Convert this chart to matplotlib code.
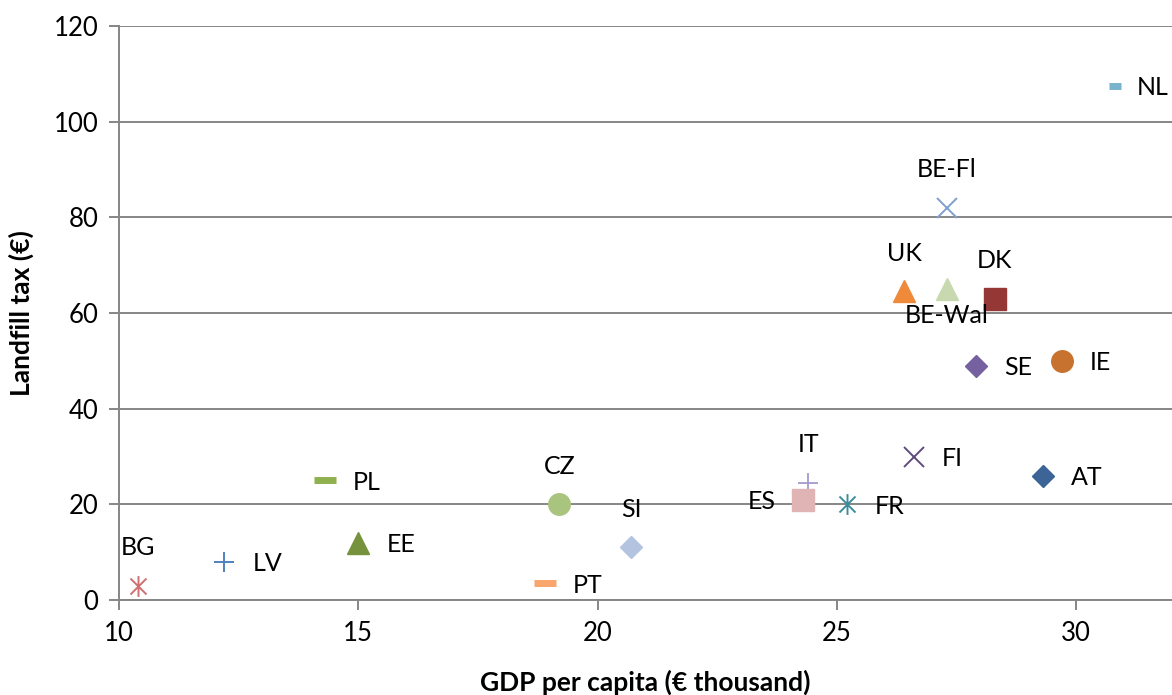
import matplotlib
matplotlib.use("Agg")
import matplotlib.pyplot as plt
from matplotlib.path import Path

plt.rcParams['font.family'] = ['Lato', 'DejaVu Sans']

# GDP per capita (thousand EUR) vs landfill tax (EUR)
countries = ['NL', 'BE-Fl', 'UK', 'BE-Wal', 'DK', 'SE', 'IE', 'IT', 'ES', 'FR',
             'FI', 'AT', 'PL', 'CZ', 'SI', 'EE', 'BG', 'LV', 'PT']
gdp = [30.8, 27.3, 26.4, 27.3, 28.3, 27.9, 29.7, 24.4, 24.3, 25.2,
       26.6, 29.3, 14.3, 19.2, 20.7, 15.0, 10.4, 12.2, 18.9]
tax = [107.5, 82, 64.5, 65, 63, 49, 50, 24.5, 21, 20,
       30, 26, 25, 20, 11, 12, 3, 8, 3.5]

# Excel style star: an x with a vertical bar
star = Path([(-1, -1), (1, 1), (-1, 1), (1, -1), (0, -1.3), (0, 1.3)],
            [Path.MOVETO, Path.LINETO, Path.MOVETO, Path.LINETO, Path.MOVETO, Path.LINETO])

# marker, colour, size, edge width
styles = {
    'NL': ('_', '#77b3cc', 9, 5),
    'BE-Fl': ('x', '#7f9fcf', 15, 1.4),
    'UK': ('^', '#ee8a3a', 15.5, 1),
    'BE-Wal': ('^', '#c8d9b0', 15.5, 1),
    'DK': ('s', '#953735', 15.5, 1),
    'SE': ('D', '#7560a0', 11.5, 1),
    'IE': ('o', '#c8722f', 15.5, 1),
    'IT': ('+', '#a898cc', 15, 1.3),
    'ES': ('s', '#e0b4b4', 15.5, 1),
    'FR': (star, '#3c8d9b', 15, 1.4),
    'FI': ('x', '#604a7b', 15, 1.4),
    'AT': ('D', '#3c6496', 11.5, 1),
    'PL': ('_', '#8fb04e', 15.5, 5),
    'CZ': ('o', '#a9c47f', 15.5, 1),
    'SI': ('D', '#b4c4e0', 11, 1),
    'EE': ('^', '#76923c', 15.5, 1),
    'BG': (star, '#d07070', 15, 1.4),
    'LV': ('+', '#4f81bd', 15, 1.4),
    'PT': ('_', '#f9a56e', 15.5, 5),
}
positions = {
    'NL': 'right', 'BE-Fl': 'above', 'UK': 'above', 'BE-Wal': 'below', 'DK': 'above',
    'SE': 'right', 'IE': 'right', 'IT': 'above', 'ES': 'left', 'FR': 'right',
    'FI': 'right', 'AT': 'right', 'PL': 'right', 'CZ': 'above', 'SI': 'above',
    'EE': 'right', 'BG': 'above', 'LV': 'right', 'PT': 'right',
}

fig = plt.figure(figsize=(11.72, 6.95), dpi=100)
ax = fig.add_axes([119 / 1172, 95 / 695, 1 - 119 / 1172, (600 - 26) / 695])

for c, x, y in zip(countries, gdp, tax):
    m, col, ms, mew = styles[c]
    fc = 'none' if m in ('x', '+', '_') or m is star else col
    ax.plot(x, y, linestyle='none', marker=m, markersize=ms, markeredgewidth=mew,
            color=col, markerfacecolor=fc, markeredgecolor=col, zorder=3)
    side = positions[c]
    if side == 'right':
        # NL sits at the right edge, pull it in a little so it isn't cut
        dx = 22 if c == 'NL' else 28
        off, ha, va = (dx, -2), 'left', 'center'
    elif side == 'left':
        off, ha, va = (-28, -2), 'right', 'center'
    elif side == 'above':
        off, ha, va = (0, 38), 'center', 'center'
    else:
        off, ha, va = (0, -26), 'center', 'center'
    ax.annotate(c, (x, y), xytext=off, textcoords='offset pixels',
                ha=ha, va=va, fontsize=18, color='black', zorder=4)

ax.set_xlim(10, 32)
ax.set_ylim(0, 120)
ax.set_xticks([10, 15, 20, 25, 30])
ax.set_yticks(range(0, 121, 20))
ax.yaxis.grid(True, color='#868686', linewidth=1.4)
ax.set_axisbelow(True)
for s in ['top', 'right']:
    ax.spines[s].set_visible(False)
for s in ['left', 'bottom']:
    ax.spines[s].set_color('#868686')
    ax.spines[s].set_linewidth(1.4)
ax.tick_params(axis='both', direction='out', length=7, width=1.4, color='#868686',
               labelsize=18.5, pad=8)

ax.set_xlabel('GDP per capita (€ thousand)', fontsize=19, fontweight='bold', labelpad=17)
ax.set_ylabel('Landfill tax (€)', fontsize=19, fontweight='bold', labelpad=14)

fig.savefig('out.png', dpi=100)
